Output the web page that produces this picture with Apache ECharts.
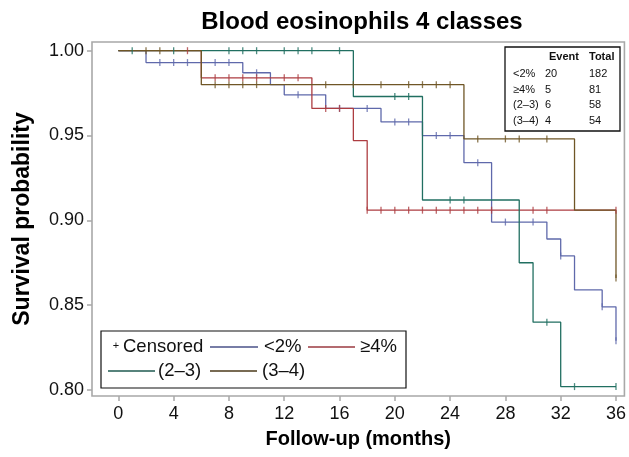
<!DOCTYPE html>
<html>
<head>
<meta charset="utf-8">
<script src="https://cdn.jsdelivr.net/npm/echarts@6/dist/echarts.min.js"></script>
<style>
html,body{margin:0;padding:0;background:#fff;}
#chart{width:629px;height:457px;}
</style>
</head>
<body>
<div id="chart"></div>
<script>
// ---- data ----
const chartTitle = 'Blood eosinophils 4 classes';
const xTitle = 'Follow-up (months)';
const yTitle = 'Survival probability';
const xTicks = [0, 4, 8, 12, 16, 20, 24, 28, 32, 36];
const yTicks = [0.80, 0.85, 0.90, 0.95, 1.00];

const groupNames = ['<2%', '≥4%', '(2–3)', '(3–4)'];
const groupEvents = [20, 5, 6, 4];
const groupTotals = [182, 81, 58, 54];

// Kaplan–Meier step points (time of change, survival after change)
const lowTime = [0, 2, 9, 11, 12, 15, 19, 22, 25, 27, 31, 32, 33, 35, 36];
const lowSurv = [1.000, 0.993, 0.987, 0.980, 0.974, 0.966, 0.958, 0.950, 0.934, 0.899, 0.889, 0.879, 0.859, 0.849, 0.829];
const lowCensor = [3, 4, 5, 7, 8, 10, 13, 16, 18, 20, 21, 23, 24, 26, 28, 30, 32, 35, 36];

const highTime = [0, 6, 14, 17, 18, 36];
const highSurv = [1.000, 0.984, 0.966, 0.947, 0.906, 0.906];
const highCensor = [5, 7, 8, 9, 10, 12, 13, 15, 16, 18, 19, 20, 21, 22, 23, 24, 25, 26, 27, 30, 31, 36];

const midLowTime = [0, 17, 22, 29, 30, 32, 36];
const midLowSurv = [1.000, 0.973, 0.912, 0.875, 0.840, 0.802, 0.802];
const midLowCensor = [1, 4, 8, 9, 10, 12, 13, 14, 16, 20, 21, 24, 25, 31, 33, 36];

const midHighTime = [0, 6, 25, 33, 36];
const midHighSurv = [1.000, 0.980, 0.948, 0.906, 0.866];
const midHighCensor = [2, 3, 7, 8, 9, 10, 15, 17, 19, 21, 22, 23, 24, 26, 28, 29, 31, 36];

// ---- styles ----
const colors = ['#5f69ab', '#ad3d41', '#216f61', '#6f5626'];
const legendColors = ['#4a5288', '#9b3a40', '#1f5a50', '#4b3a1a'];
const FONT = '"Liberation Sans", Arial, Helvetica, sans-serif';

const groups = [
  {time: lowTime, surv: lowSurv, censor: lowCensor},
  {time: highTime, surv: highSurv, censor: highCensor},
  {time: midLowTime, surv: midLowSurv, censor: midLowCensor},
  {time: midHighTime, surv: midHighSurv, censor: midHighCensor}
];

function survAt(g, t) {
  let v = g.surv[0];
  for (let i = 0; i < g.time.length; i++) { if (g.time[i] <= t) v = g.surv[i]; }
  return v;
}

const series = [];
groups.forEach((g, i) => {
  series.push({
    name: groupNames[i], type: 'line', step: 'end', showSymbol: false, symbol: 'none',
    data: g.time.map((t, k) => [t, g.surv[k]]),
    lineStyle: {color: colors[i], width: 1.3}, silent: true, animation: false, z: 2 + i
  });
});
groups.forEach((g, i) => {
  series.push({
    name: groupNames[i] + ' censored', type: 'scatter', symbol: 'rect', symbolSize: [1.3, 7],
    data: g.censor.map(t => [t, survAt(g, t)]),
    itemStyle: {color: colors[i]}, silent: true, animation: false, z: 10 + i
  });
});

// ---- graphic legend and table ----
const graphics = [];
const txt = (text, x, y, size, bold, align) => ({
  type: 'text', z: 100,
  style: {text: text, x: x, y: y, font: (bold ? 'bold ' : '') + size + 'px ' + FONT, fill: '#111',
          align: align || 'left', verticalAlign: 'middle', textAlign: align || 'left', textVerticalAlign: 'middle'}
});
const seg = (x1, x2, y, c) => ({type: 'line', z: 100, shape: {x1: x1, y1: y, x2: x2, y2: y}, style: {stroke: c, lineWidth: 1.6}});

// legend box
graphics.push({type: 'rect', z: 99, shape: {x: 101, y: 331, width: 305, height: 57}, style: {fill: '#fff', stroke: '#111', lineWidth: 1.2}});
graphics.push(txt('+', 116, 346, 11, false, 'center'));
graphics.push(txt('Censored', 123, 347, 18.5, false));
graphics.push(seg(210, 258, 347, legendColors[0]));
graphics.push(txt(groupNames[0], 264, 347, 18.5, false));
graphics.push(seg(308, 355, 347, legendColors[1]));
graphics.push(txt(groupNames[1], 360, 347, 18.5, false));
graphics.push(seg(108, 155, 371, legendColors[2]));
graphics.push(txt(groupNames[2], 158, 371, 18.5, false));
graphics.push(seg(210, 257, 371, legendColors[3]));
graphics.push(txt(groupNames[3], 262, 371, 18.5, false));

// events table
graphics.push({type: 'rect', z: 99, shape: {x: 505, y: 47, width: 115, height: 84}, style: {fill: '#fff', stroke: '#111', lineWidth: 1.3}});
graphics.push(txt('Event', 549, 57, 11, true));
graphics.push(txt('Total', 589, 57, 11, true));
const rowY = [73.5, 89.5, 105, 120.5];
groupNames.forEach((n, i) => {
  graphics.push(txt(n, 513, rowY[i], 11, false));
  graphics.push(txt(String(groupEvents[i]), 545, rowY[i], 11, false));
  graphics.push(txt(String(groupTotals[i]), 589, rowY[i], 11, false));
});

const chart = echarts.init(document.getElementById('chart'));
chart.setOption({
  animation: false,
  backgroundColor: '#fff',
  title: {
    text: chartTitle, left: 357, top: 5, textAlign: 'center',
    textStyle: {fontFamily: FONT, fontWeight: 'bold', fontSize: 24, color: '#000'}
  },
  grid: {left: 92, right: 2, top: 42, bottom: 61, show: true, borderColor: '#a8a8a8', borderWidth: 1.6, backgroundColor: '#fff'},
  xAxis: {
    type: 'value', min: -1.908, max: 36.61,
    name: xTitle, nameLocation: 'middle', nameGap: 33,
    nameTextStyle: {fontFamily: FONT, fontWeight: 'bold', fontSize: 20, color: '#000'},
    axisLine: {show: false, onZero: false},
    axisTick: {show: true, customValues: xTicks, length: 5, lineStyle: {color: '#a8a8a8', width: 1.5}},
    axisLabel: {customValues: xTicks, margin: 9, fontFamily: FONT, fontSize: 18, color: '#111'},
    splitLine: {show: false}
  },
  yAxis: {
    type: 'value', min: 0.79646, max: 1.00513,
    name: yTitle, nameLocation: 'middle', nameGap: 58, nameRotate: 90,
    nameTextStyle: {fontFamily: FONT, fontWeight: 'bold', fontSize: 23, color: '#000'},
    axisLine: {show: false, onZero: false},
    axisTick: {show: true, customValues: yTicks, length: 5, lineStyle: {color: '#a8a8a8', width: 1.5}},
    axisLabel: {customValues: yTicks, margin: 8, fontFamily: FONT, fontSize: 18, color: '#111', formatter: v => v.toFixed(2)},
    splitLine: {show: false}
  },
  series: series,
  graphic: graphics
});
</script>
</body>
</html>
